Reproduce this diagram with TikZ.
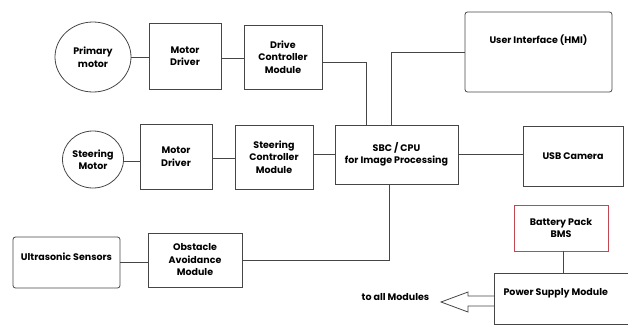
\documentclass[tikz,border=0pt]{standalone}
\usepackage{fontspec}
\setmainfont{Poppins}
\usetikzlibrary{shapes.geometric}
\definecolor{linegray}{RGB}{70,70,70}
\definecolor{batred}{RGB}{195,70,80}
\tikzset{
  blk/.style={draw=linegray, line width=0.8pt, align=center, inner sep=1pt},
  rblk/.style={blk, rounded corners=2.5pt},
  motor/.style={blk, ellipse},
  wire/.style={draw=linegray, line width=0.8pt}
}
\begin{document}
\begin{tikzpicture}[x=1pt,y=-1pt,font=\bfseries\fontsize{9.5}{12.5}\selectfont]
  \useasboundingbox (0,0) rectangle (628,327);
  % drive chain
  \node[motor, minimum width=76, minimum height=70] (pm) at (93,57) {Primary\\motor};
  \node[blk, minimum width=72, minimum height=66] (md1) at (185,56) {Motor\\Driver};
  \node[blk, minimum width=78, minimum height=64] (dcm) at (283,57) {Drive\\Controller\\Module};
  % steering chain
  \node[motor, minimum width=60, minimum height=57] (sm) at (93,159.5) {Steering\\Motor};
  \node[blk, minimum width=72, minimum height=65] (md2) at (176,156.5) {Motor\\Driver};
  \node[blk, minimum width=78, minimum height=64] (scm) at (274,157) {Steering\\Controller\\Module};
  % obstacle chain
  \node[rblk, minimum width=107, minimum height=51,
        label={[anchor=center,yshift=5.5pt]center:Ultrasonic Sensors}] (us) at (66.5,262.5) {};
  \node[blk, minimum width=94, minimum height=54] (oam) at (195,260) {Obstacle\\Avoidance\\Module};
  % cpu and peripherals
  \node[blk, minimum width=123, minimum height=59] (sbc) at (396.5,154.5) {SBC / CPU\\for Image Processing};
  \node[rblk, minimum width=147, minimum height=80,
        label={[anchor=center,yshift=-29pt]north:User Interface (HMI)}] (ui) at (538.5,52) {};
  \node[blk, minimum width=100, minimum height=60] (usb) at (573,156) {USB Camera};
  % power
  \node[blk, draw=batred, minimum width=94, minimum height=46] (bat) at (561,228) {Battery Pack\\BMS};
  \node[blk, minimum width=146, minimum height=51, anchor=north west,
        label={[anchor=west,xshift=6pt,yshift=5.5pt]west:Power Supply Module}] (psm) at (494,273) {};
  \node (tam) at (395.5,297) {to all Modules};

  \draw[wire] (pm.east) -- (md1.west |- pm.east);
  \draw[wire] (md1.east |- 0,58) -- (dcm.west |- 0,58);
  \draw[wire] (dcm.east |- 0,62) -| ([xshift=-30.5pt]sbc.north);
  \draw[wire] (ui.west) -| ([xshift=-5.5pt]sbc.north);
  \draw[wire] (sm.east |- 0,161) -- (md2.west |- 0,161);
  \draw[wire] (md2.east |- 0,158) -- (scm.west |- 0,158);
  \draw[wire] (scm.east |- 0,154) -- (sbc.west |- 0,154);
  \draw[wire] (sbc.east |- 0,154) -- (usb.west |- 0,154);
  \draw[wire] (us.east) -- (oam.west |- us.east);
  \draw[wire] (oam.east) -| ([xshift=-7.5pt]sbc.south);
  \draw[wire] (bat.south -| 563,0) -- (psm.north -| 563,0);
  % hollow arrow to the modules
  \draw[wire, line join=miter] (psm.west |- 0,296) -- ++(-26,0) -- ++(0,-4)
    -- ++(-27,10) -- ++(27,10) -- ++(0,-6) -- (psm.west |- 0,306);
\end{tikzpicture}
\end{document}
